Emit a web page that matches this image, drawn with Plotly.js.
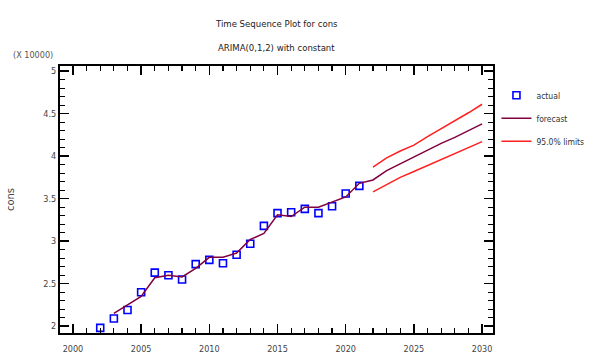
<!DOCTYPE html>
<html>
<head>
<meta charset="utf-8">
<script src="https://cdn.plot.ly/plotly-3.0.1.min.js"></script>
<style>body{margin:0;padding:0;background:#fff}#chart{width:593px;height:358px}</style>
</head>
<body>
<div id="chart"></div>
<script>
var actualYears = [2002,2003,2004,2005,2006,2007,2008,2009,2010,2011,2012,2013,2014,2015,2016,2017,2018,2019,2020,2021];
var actualValues = [1.98,2.09,2.19,2.40,2.63,2.60,2.55,2.73,2.78,2.74,2.84,2.97,3.18,3.33,3.34,3.38,3.33,3.41,3.56,3.65];
var forecastYears = [2003,2004,2005,2006,2007,2008,2009,2010,2011,2012,2013,2014,2015,2016,2017,2018,2019,2020,2021,2022,2023,2024,2025,2026,2027,2028,2029,2030];
var forecastValues = [2.15,2.25,2.35,2.57,2.60,2.58,2.68,2.81,2.81,2.86,3.02,3.09,3.31,3.29,3.40,3.40,3.46,3.52,3.68,3.72,3.83,3.91,3.99,4.07,4.15,4.22,4.30,4.38];
var limitYears = [2022,2023,2024,2025,2026,2027,2028,2029,2030];
var upperValues = [3.87,3.98,4.06,4.13,4.23,4.32,4.42,4.51,4.61];
var lowerValues = [3.58,3.67,3.75,3.82,3.89,3.96,4.03,4.10,4.17];
var yTickVals = [2,2.5,3,3.5,4,4.5,5];
var yTickText = ['2','2.5','3','3.5','4','4.5','5'];
var xTickVals = [2000,2005,2010,2015,2020,2025,2030];

var FONT = 'Liberation Sans Narrow, DejaVu Sans Condensed, Arial Narrow, sans-serif';

var traces = [
  {x: actualYears, y: actualValues, mode: 'markers', name: 'actual', type: 'scatter', legendgroup: 'a',
   marker: {symbol: 'square-open', size: 7, color: '#0000ff', line: {width: 1.6, color: '#0000ff'}}},
  {x: forecastYears, y: forecastValues, mode: 'lines', name: 'forecast', type: 'scatter', legendgroup: 'f',
   line: {color: '#800040', width: 1.5}},
  {x: limitYears, y: upperValues, mode: 'lines', name: '95.0% limits', type: 'scatter', legendgroup: 'lim',
   line: {color: '#ff2020', width: 1.5}},
  {x: limitYears, y: lowerValues, mode: 'lines', name: '95.0% limits', type: 'scatter', legendgroup: 'lim',
   showlegend: false, line: {color: '#ff2020', width: 1.5}}
];

var axisCommon = {
  showgrid: false, zeroline: false, showline: true, linecolor: '#000', linewidth: 2,
  ticks: 'inside', ticklen: 9, tickwidth: 1.5, tickcolor: '#000', mirror: 'ticks',
  tickfont: {family: FONT, size: 9, color: '#444'}
};

var layout = {
  width: 593, height: 358,
  margin: {l: 60, r: 100, t: 66, b: 25, autoexpand: false},
  paper_bgcolor: '#fff', plot_bgcolor: '#fff',
  font: {family: FONT, size: 10, color: '#333'},
  showlegend: true,
  legend: {x: 1.008, y: 0.945, xanchor: 'left', yanchor: 'top', font: {family: FONT, size: 8.5, color: '#333'},
           bgcolor: 'rgba(0,0,0,0)', tracegroupgap: 4, itemwidth: 30},
  xaxis: Object.assign({}, axisCommon, {
    range: [1999.05, 2030.8], tickvals: xTickVals, ticktext: xTickVals.map(String),
    ticklabelstandoff: 6,
    minor: {dtick: 1, ticks: 'inside', ticklen: 5, tickwidth: 1.2, tickcolor: '#000'}
  }),
  yaxis: Object.assign({}, axisCommon, {
    range: [1.92, 5.06], tickvals: yTickVals, ticktext: yTickText,
    title: {text: 'cons', font: {family: FONT, size: 11, color: '#444'}, standoff: 26},
    minor: {dtick: 0.1, ticks: 'inside', ticklen: 5, tickwidth: 1.2, tickcolor: '#000'}
  }),
  annotations: [
    {text: 'Time Sequence Plot for cons', xref: 'paper', yref: 'paper', x: 0.5, y: 1, yshift: 43,
     showarrow: false, font: {family: FONT, size: 9.5, color: '#222'}, xanchor: 'center', yanchor: 'middle'},
    {text: 'ARIMA(0,1,2) with constant', xref: 'paper', yref: 'paper', x: 0.5, y: 1, yshift: 19,
     showarrow: false, font: {family: FONT, size: 9.5, color: '#222'}, xanchor: 'center', yanchor: 'middle'},
    {text: '(X 10000)', xref: 'paper', yref: 'paper', x: 0, y: 1, xshift: -5, yshift: 11,
     showarrow: false, font: {family: FONT, size: 9, color: '#555'}, xanchor: 'right', yanchor: 'middle'}
  ]
};

Plotly.newPlot('chart', traces, layout, {staticPlot: true, displayModeBar: false});
</script>
</body>
</html>
